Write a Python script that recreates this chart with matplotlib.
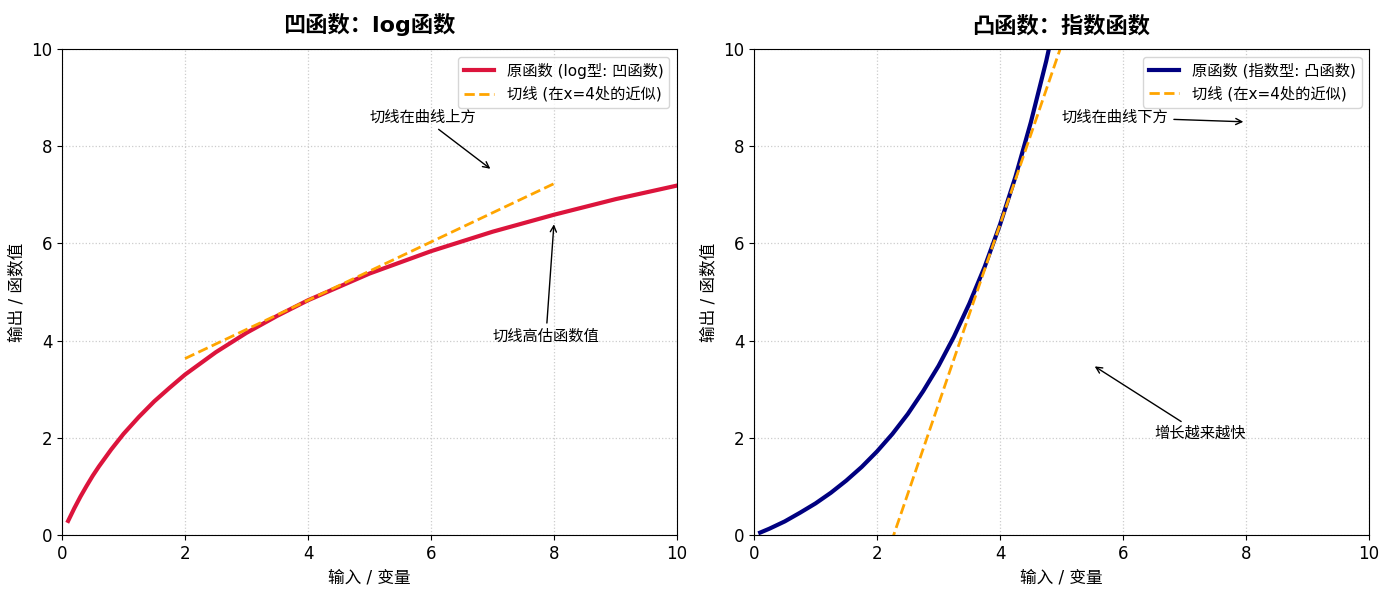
import matplotlib
matplotlib.use("Agg")
import matplotlib.pyplot as plt

# DejaVu first for latin text and ticks, CJK glyphs fall back to Noto
plt.rcParams["font.family"] = ["DejaVu Sans", "Noto Sans CJK SC"]
plt.rcParams["axes.unicode_minus"] = False

# left panel: concave curve
log_x = [0.1, 0.2, 0.3, 0.4, 0.5, 0.6, 0.8, 1.0, 1.25, 1.5, 1.75, 2.0, 2.5, 3.0,
         3.5, 4.0, 5.0, 6.0, 7.0, 8.0, 9.0, 10.0]
log_y = [0.29, 0.55, 0.79, 1.01, 1.22, 1.41, 1.76, 2.08, 2.43, 2.75, 3.03, 3.30, 3.76, 4.16,
         4.51, 4.83, 5.38, 5.84, 6.24, 6.59, 6.91, 7.19]
log_tan_x = [2.0, 8.0]
log_tan_y = [3.63, 7.23]

# right panel: convex curve
exp_x = [0.1, 0.25, 0.5, 0.75, 1.0, 1.25, 1.5, 1.75, 2.0, 2.25, 2.5, 2.75, 3.0, 3.25,
         3.5, 3.75, 4.0, 4.25, 4.5, 4.75, 5.0]
exp_y = [0.05, 0.13, 0.28, 0.46, 0.65, 0.87, 1.12, 1.40, 1.72, 2.08, 2.49, 2.96, 3.48, 4.08,
         4.76, 5.52, 6.39, 7.37, 8.49, 9.75, 11.18]
exp_tan_x = [2.0, 8.0]
exp_tan_y = [-1.0, 21.17]

titles = ["凹函数：log函数", "凸函数：指数函数"]
curve_labels = ["原函数 (log型: 凹函数)", "原函数 (指数型: 凸函数)"]
tangent_label = "切线 (在x=4处的近似)"
x_label = "输入 / 变量"
y_label = "输出 / 函数值"

fig, axes = plt.subplots(1, 2, figsize=(13.9, 5.9), dpi=100)
fig.subplots_adjust(left=0.0446, right=0.985, bottom=0.0932, top=0.917, wspace=0.125)

panels = [
    (log_x, log_y, log_tan_x, log_tan_y, "crimson"),
    (exp_x, exp_y, exp_tan_x, exp_tan_y, "navy"),
]

for ax, (cx, cy, tx, ty, colour), title, clabel in zip(axes, panels, titles, curve_labels):
    ax.plot(cx, cy, color=colour, lw=3, label=clabel)
    ax.plot(tx, ty, color="orange", lw=2, ls="--", label=tangent_label)
    ax.set_xlim(0, 10)
    ax.set_ylim(0, 10)
    ax.set_title(title, fontsize=16, fontweight="bold", pad=12)
    ax.set_xlabel(x_label, fontsize=12)
    ax.set_ylabel(y_label, fontsize=12)
    ax.tick_params(labelsize=12)
    ax.grid(True, ls=":", color="#cccccc", lw=0.9)
    ax.legend(loc="upper right", fontsize=11)

arrow = dict(arrowstyle="->", color="black", lw=1)
axes[0].annotate("切线在曲线上方", xy=(7, 7.5), xytext=(5, 8.5),
                 fontsize=11, arrowprops=arrow)
axes[0].annotate("切线高估函数值", xy=(8, 6.45), xytext=(7, 4.0),
                 fontsize=11, arrowprops=arrow)
axes[1].annotate("切线在曲线下方", xy=(8, 8.5), xytext=(5, 8.5),
                 fontsize=11, arrowprops=arrow)
axes[1].annotate("增长越来越快", xy=(5.5, 3.5), xytext=(6.5, 2.0),
                 fontsize=11, arrowprops=arrow)

fig.savefig("out.png")
